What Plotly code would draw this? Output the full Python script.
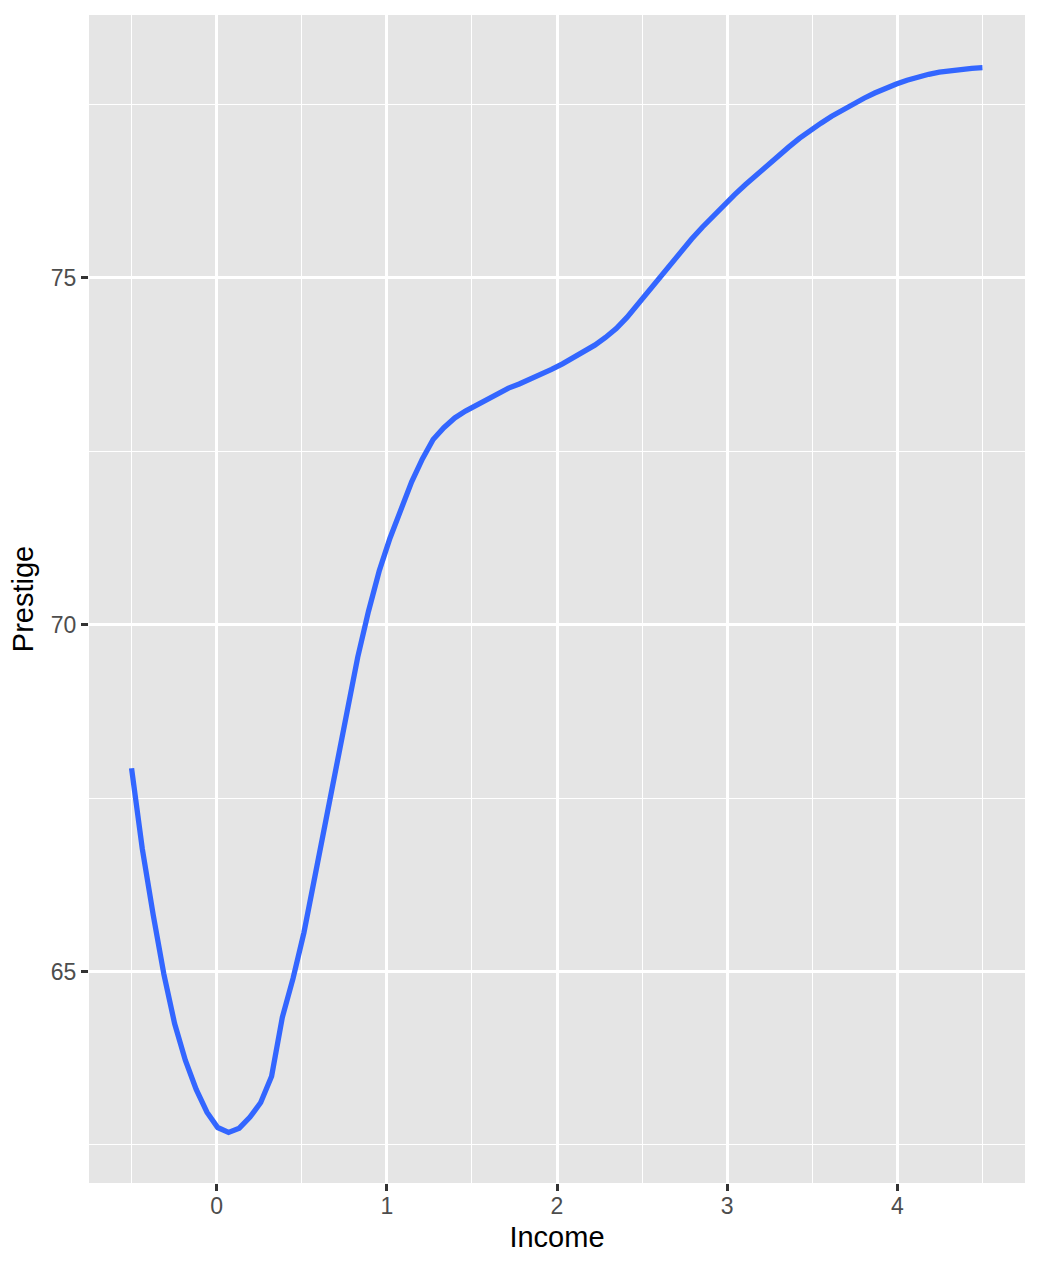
import plotly.graph_objects as go

# Loess-smoothed curve, 80 evaluation points
income = [-0.5, -0.437, -0.373, -0.310, -0.247, -0.184, -0.120, -0.057, 0.006, 0.070,
          0.133, 0.196, 0.259, 0.323, 0.386, 0.449, 0.513, 0.576, 0.639, 0.703,
          0.766, 0.829, 0.892, 0.956, 1.019, 1.082, 1.146, 1.209, 1.272, 1.335,
          1.399, 1.462, 1.525, 1.589, 1.652, 1.715, 1.778, 1.842, 1.905, 1.968,
          2.032, 2.095, 2.158, 2.222, 2.285, 2.348, 2.411, 2.475, 2.538, 2.601,
          2.665, 2.728, 2.791, 2.854, 2.918, 2.981, 3.044, 3.108, 3.171, 3.234,
          3.297, 3.361, 3.424, 3.487, 3.551, 3.614, 3.677, 3.741, 3.804, 3.867,
          3.930, 3.994, 4.057, 4.120, 4.184, 4.247, 4.310, 4.373, 4.437, 4.5]
prestige = [67.93, 66.77, 65.82, 64.96, 64.25, 63.72, 63.30, 62.97, 62.75, 62.68,
            62.74, 62.90, 63.11, 63.49, 64.34, 64.90, 65.56, 66.36, 67.16, 67.97,
            68.79, 69.53, 70.19, 70.78, 71.25, 71.67, 72.06, 72.39, 72.67, 72.84,
            72.98, 73.08, 73.16, 73.25, 73.34, 73.41, 73.47, 73.54, 73.60, 73.68,
            73.76, 73.85, 73.93, 74.03, 74.14, 74.27, 74.43, 74.62, 74.82, 75.02,
            75.20, 75.38, 75.56, 75.73, 75.895, 76.05, 76.20, 76.345, 76.485, 76.62,
            76.755, 76.885, 77.01, 77.125, 77.23, 77.33, 77.42, 77.51, 77.59, 77.665,
            77.735, 77.795, 77.85, 77.895, 77.935, 77.965, 77.99, 78.01, 78.022, 78.03]

x_ticks = [0, 1, 2, 3, 4]
y_ticks = [65, 70, 75]

fig = go.Figure()
fig.add_trace(go.Scatter(x=income, y=prestige, mode="lines",
                         line=dict(color="#3366FF", width=5.3), showlegend=False,
                         hoverinfo="skip"))

font = "Liberation Sans, Arial, Helvetica, sans-serif"
axis_common = dict(
    showline=False, zeroline=False, automargin=False,
    showgrid=True, gridcolor="white", gridwidth=2.7,
    ticks="outside", ticklen=7, tickwidth=2.7, tickcolor="#333333",
    tickfont=dict(family=font, size=23, color="#4D4D4D"),
    title_font=dict(family=font, size=29, color="black"),
)

fig.update_layout(
    width=1040, height=1268,
    margin=dict(l=89, r=15, t=15, b=85),
    paper_bgcolor="white", plot_bgcolor="#E5E5E5",
    xaxis=dict(range=[-0.75, 4.75], tickmode="array", tickvals=x_ticks,
               ticktext=[str(v) for v in x_ticks],
               minor=dict(dtick=0.5, tick0=0, showgrid=True, gridcolor="white",
                          gridwidth=1.4, ticks=""),
               ticklabelstandoff=-5,
               title=dict(text="Income", standoff=9), **axis_common),
    yaxis=dict(range=[61.95, 78.79], tickmode="array", tickvals=y_ticks,
               ticktext=[str(v) for v in y_ticks],
               minor=dict(dtick=2.5, tick0=0, showgrid=True, gridcolor="white",
                          gridwidth=1.4, ticks=""),
               title=dict(text="Prestige", standoff=8), **axis_common),
)

fig.write_html("out.html", config={"displayModeBar": False},
               post_script="document.body.style.margin='0';document.body.style.overflow='hidden';")
